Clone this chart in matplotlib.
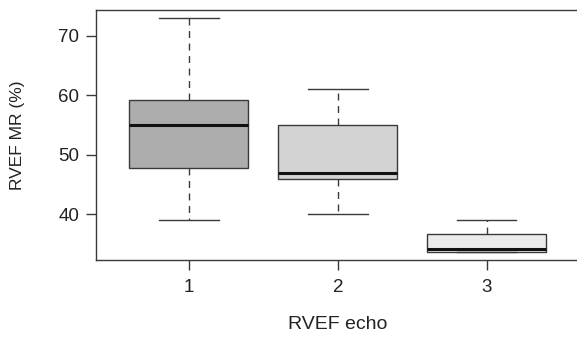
import matplotlib
matplotlib.use("Agg")
import matplotlib.pyplot as plt

plt.rcParams["font.family"] = ["Liberation Sans", "DejaVu Sans"]

groups = ["1", "2", "3"]
whislo = [39, 40, 33.7]
q1 = [47.8, 45.9, 33.7]
med = [55, 47, 34.2]
q3 = [59.1, 55, 36.6]
whishi = [73, 61, 39]
fills = ["#adadad", "#d3d3d3", "#ebebeb"]

stats = []
for i, g in enumerate(groups):
    stats.append(dict(label=g, whislo=whislo[i], q1=q1[i], med=med[i],
                      q3=q3[i], whishi=whishi[i], fliers=[]))

fig = plt.figure(figsize=(5.77, 3.37), dpi=100)
ax = fig.add_axes([0.1664, 0.2285, 0.8371, 0.7418])

edge = "#3a3a3a"
bp = ax.bxp(stats, positions=[1, 2, 3], widths=0.8, patch_artist=True,
            showfliers=False,
            boxprops=dict(edgecolor=edge, linewidth=1.0),
            medianprops=dict(color="#111111", linewidth=2.2),
            whiskerprops=dict(color=edge, linewidth=1.0, linestyle=(0, (5, 4))),
            capprops=dict(color=edge, linewidth=1.0),
            capwidths=0.4)
for patch, c in zip(bp["boxes"], fills):
    patch.set_facecolor(c)

ax.set_xlim(0.376, 3.62)
ax.set_ylim(32.3, 74.3)
ax.set_yticks([40, 50, 60, 70])
ax.set_xticks([1, 2, 3])
ax.set_xticklabels(groups)
for s in ax.spines.values():
    s.set_color(edge)
    s.set_linewidth(1.0)
ax.tick_params(axis="both", labelsize=13.5, length=7, width=1.0, color=edge,
               labelcolor="#222222")
ax.tick_params(axis="x", pad=7)
ax.tick_params(axis="y", pad=5)
ax.set_xlabel("RVEF echo", fontsize=14, color="#222222")
ax.set_ylabel("RVEF MR (%)", fontsize=12.5, color="#222222")
# label positions in axes fraction
ax.xaxis.set_label_coords(0.5, -0.225)
ax.yaxis.set_label_coords(-0.147, 0.5)

fig.savefig("out.png", dpi=100)
